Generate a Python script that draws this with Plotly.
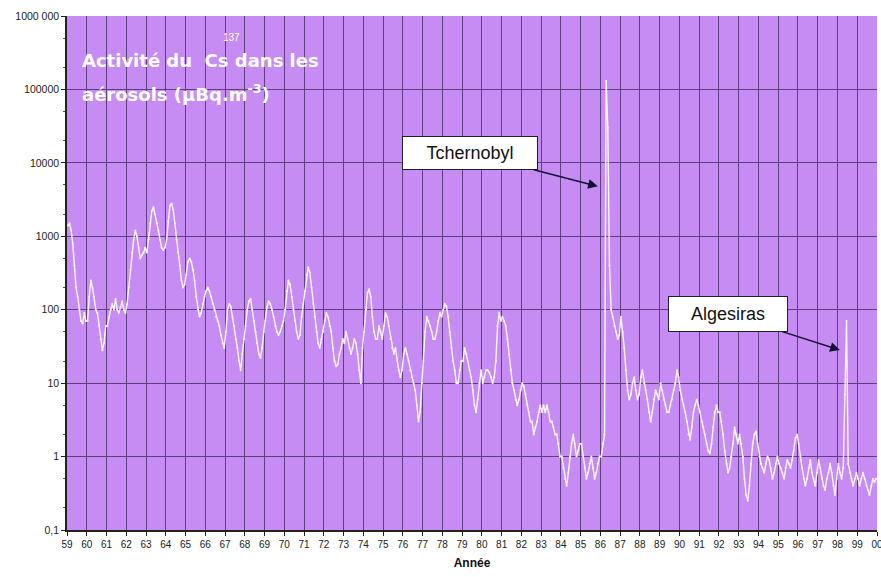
import plotly.graph_objects as go

# Monthly 137Cs activity in aerosols (µBq/m3), 1959-1999
years = list(range(1959, 2000))
monthly = {
    1959: [1400, 1500, 1200, 800, 400, 200, 150, 100, 70, 65, 90, 70],
    1960: [70, 150, 250, 200, 150, 100, 90, 60, 40, 28, 35, 60],
    1961: [60, 80, 100, 120, 100, 140, 100, 90, 110, 130, 100, 90],
    1962: [120, 200, 350, 600, 900, 1200, 1000, 700, 500, 550, 600, 700],
    1963: [600, 900, 1500, 2200, 2500, 2000, 1500, 1200, 900, 700, 650, 700],
    1964: [900, 1600, 2600, 2800, 2300, 1500, 900, 600, 400, 250, 200, 220],
    1965: [300, 450, 500, 450, 350, 250, 150, 100, 80, 90, 120, 150],
    1966: [180, 200, 180, 150, 120, 100, 80, 70, 60, 45, 35, 30],
    1967: [50, 100, 120, 110, 80, 60, 40, 30, 20, 15, 25, 40],
    1968: [60, 100, 130, 140, 100, 70, 50, 35, 25, 22, 30, 50],
    1969: [70, 110, 130, 120, 100, 80, 60, 50, 45, 50, 60, 70],
    1970: [100, 180, 250, 220, 150, 100, 70, 50, 40, 45, 80, 120],
    1971: [180, 300, 380, 320, 200, 120, 80, 50, 35, 30, 40, 50],
    1972: [70, 90, 80, 60, 50, 30, 20, 17, 18, 25, 30, 40],
    1973: [35, 50, 40, 30, 25, 30, 40, 35, 25, 15, 10, 30],
    1974: [50, 100, 170, 190, 150, 80, 50, 40, 40, 60, 50, 40],
    1975: [60, 90, 80, 60, 40, 30, 25, 30, 20, 15, 12, 15],
    1976: [25, 30, 25, 20, 15, 12, 10, 8, 5, 3, 4, 10],
    1977: [20, 50, 80, 70, 60, 50, 40, 40, 50, 70, 90, 80],
    1978: [100, 120, 110, 80, 50, 30, 20, 15, 10, 10, 15, 20],
    1979: [20, 30, 25, 20, 15, 12, 8, 5, 4, 6, 10, 15],
    1980: [10, 12, 15, 15, 14, 12, 10, 12, 20, 60, 90, 70],
    1981: [80, 70, 60, 40, 25, 15, 10, 8, 6, 5, 6, 8],
    1982: [10, 9, 7, 5, 4, 3, 3, 2, 2.5, 3, 4, 5],
    1983: [4, 5, 4, 5, 4, 3, 3, 2.5, 2, 2, 1.5, 1],
    1984: [1, 0.7, 0.5, 0.4, 0.6, 1, 1.5, 2, 1.5, 1, 1.2, 1.5],
    1985: [1.5, 1, 0.7, 0.5, 0.6, 0.8, 1, 0.7, 0.5, 0.6, 0.8, 1],
    1986: [1, 1.5, 2, 130000, 30000, 400, 100, 80, 60, 50, 40, 45],
    1987: [80, 50, 30, 15, 8, 6, 7, 10, 12, 8, 6, 7],
    1988: [12, 15, 10, 8, 6, 4, 3, 4, 6, 8, 7, 6],
    1989: [10, 8, 6, 5, 4, 4, 5, 6, 8, 10, 15, 12],
    1990: [8, 6, 5, 4, 3, 2, 1.7, 2.5, 4, 5, 6, 5],
    1991: [4, 3, 2.5, 2, 1.5, 1.2, 1.1, 1.5, 2.5, 4, 5, 4],
    1992: [4, 3, 2, 1.2, 0.8, 0.6, 0.7, 1, 1.5, 2.5, 2, 1.5],
    1993: [2, 1.5, 1, 0.5, 0.3, 0.25, 0.4, 0.8, 1.5, 2, 2.2, 1.5],
    1994: [1, 0.8, 0.7, 0.6, 0.8, 1, 0.9, 0.7, 0.5, 0.6, 0.8, 1],
    1995: [0.8, 0.7, 0.6, 0.5, 0.7, 0.9, 0.8, 0.7, 0.9, 1.2, 1.8, 2],
    1996: [1.5, 1, 0.7, 0.5, 0.4, 0.5, 0.7, 0.9, 0.6, 0.5, 0.4, 0.6],
    1997: [0.9, 0.7, 0.5, 0.4, 0.35, 0.5, 0.6, 0.8, 0.6, 0.4, 0.3, 0.5],
    1998: [0.8, 0.6, 0.5, 0.7, 7, 70, 0.8, 0.6, 0.5, 0.4, 0.5, 0.6],
    1999: [0.5, 0.4, 0.5, 0.6, 0.5, 0.4, 0.35, 0.3, 0.4, 0.5, 0.45, 0.5],
}

x_ticks = list(range(1959, 2001))
x_ticklabels = ["%02d" % (y % 100) for y in x_ticks]
y_ticks = [0.1, 1, 10, 100, 1000, 10000, 100000, 1000000]
y_ticklabels = ["0,1", "1", "10", "100", "1000", "10000", "100000", "1000 000"]

xs, ys = [], []
for yr in years:
    for m, v in enumerate(monthly[yr]):
        xs.append(yr + (m + 0.5) / 12)
        ys.append(v)

fig = go.Figure()
fig.add_trace(go.Scatter(
    x=xs, y=ys, mode="lines+markers",
    line=dict(color="#FBF4FC", width=1.4),
    marker=dict(size=2, color="#FBF4FC"),
    showlegend=False, hoverinfo="x+y",
))

grid_col = "#5E3F82"
title_font = dict(size=18, color="white", family="DejaVu Sans, Arial, sans-serif")
box_font = dict(size=18, color="#111111", family="Liberation Sans, Arial, sans-serif")
fig.update_layout(
    width=881, height=577,
    margin=dict(l=67, r=4, t=16, b=47),
    paper_bgcolor="white",
    plot_bgcolor="#C68CF4",
    font=dict(family="Arial, Liberation Sans, sans-serif", size=10, color="#222222"),
    xaxis=dict(
        range=[1959, 2000], tickmode="array", tickvals=x_ticks, ticktext=x_ticklabels,
        showgrid=True, gridcolor=grid_col, gridwidth=1.3,
        showline=True, linecolor="#222222", linewidth=1.5,
        ticks="outside", ticklen=4, tickcolor="#222222",
        tickfont=dict(size=10, color="#222222"),
        ticklabeloverflow="allow",
        automargin=False,
        title=dict(text="<b>Année</b>", font=dict(size=12, color="#111111"), standoff=10),
        zeroline=False, mirror=False,
    ),
    yaxis=dict(
        type="log", range=[-1, 6], tickmode="array", tickvals=y_ticks, ticktext=y_ticklabels,
        showgrid=True, gridcolor=grid_col, gridwidth=1.3,
        showline=True, linecolor="#222222", linewidth=1.5,
        ticks="outside", ticklen=4, tickcolor="#222222",
        minor=dict(ticks="outside", ticklen=2, tickcolor="#555555", showgrid=False),
        tickfont=dict(size=10.5, color="#222222"),
        ticklabeloverflow="allow",
        automargin=False,
        zeroline=False,
    ),
    annotations=[
        dict(xref="paper", yref="paper", x=0.0165, y=0.914, xanchor="left", yanchor="middle",
             text="<b>Activité du  Cs dans les</b>", showarrow=False,
             font=title_font),
        dict(xref="paper", yref="paper", x=0.2037, y=0.959, xanchor="center", yanchor="middle",
             text="137", showarrow=False,
             font=dict(size=10, color="white", family="Arial, sans-serif")),
        dict(xref="paper", yref="paper", x=0.0165, y=0.850, xanchor="left", yanchor="middle",
             text="<b>aérosols (µBq.m<sup>-3</sup>)</b>", showarrow=False,
             font=title_font),
        dict(x=1985.87, y=3.68, xref="x", yref="y", text="Tchernobyl",
             showarrow=True, ax=-128, ay=-33, arrowhead=2, arrowsize=1.3, arrowwidth=1.5,
             arrowcolor="#111133", bgcolor="white", bordercolor="#222222", borderwidth=1,
             width=130, height=28, borderpad=2,
             font=box_font),
        dict(x=1998.12, y=1.45, xref="x", yref="y", text="Algesiras",
             showarrow=True, ax=-112, ay=-36, arrowhead=2, arrowsize=1.3, arrowwidth=1.5,
             arrowcolor="#111133", bgcolor="white", bordercolor="#222222", borderwidth=1,
             width=114, height=30, borderpad=2,
             font=box_font),
    ],
)

fig.write_html("out.html", config={"displayModeBar": False},
               post_script="document.body.style.margin='0';document.body.style.overflow='hidden';")
